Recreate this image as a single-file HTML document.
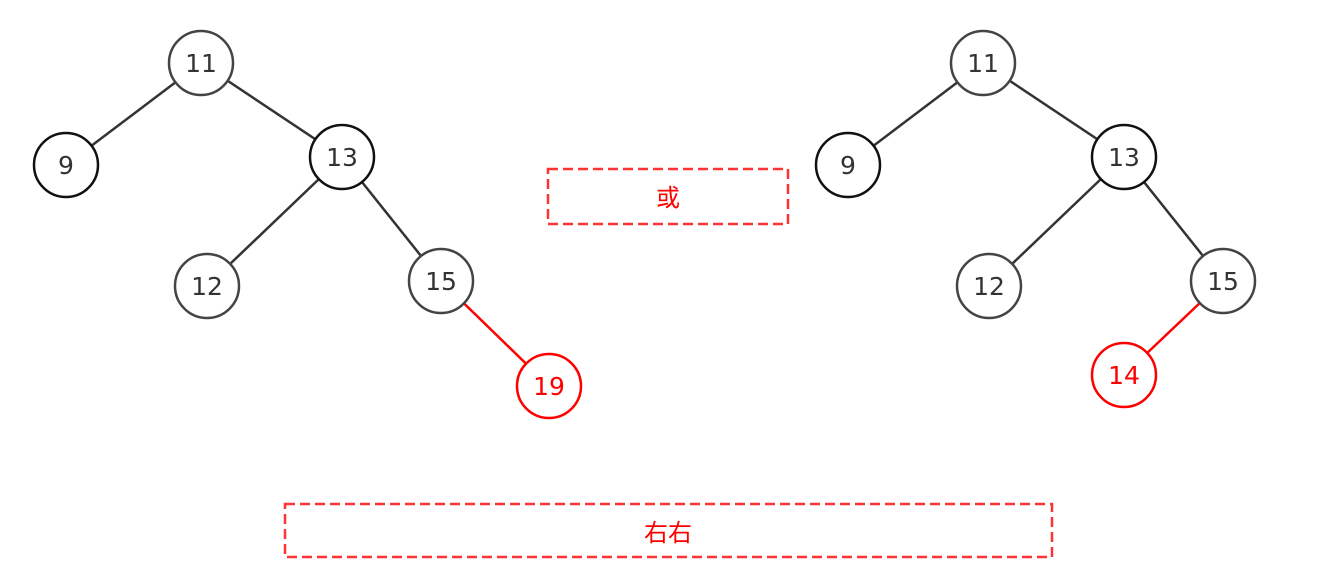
<!DOCTYPE html>
<html><head><meta charset="utf-8"><style>body{margin:0;background:#fff}svg{display:block}</style></head><body>
<svg width="1320" height="565" xmlns="http://www.w3.org/2000/svg" font-family="'DejaVu Sans','Noto Sans CJK SC',sans-serif" font-size="25" text-anchor="middle">
<g stroke="#333" stroke-width="2.5" fill="none">
<line x1="201" y1="63" x2="66" y2="165"/><line x1="201" y1="63" x2="342" y2="157"/>
<line x1="342" y1="157" x2="207" y2="286"/><line x1="342" y1="157" x2="441" y2="281"/>
<line x1="983" y1="63" x2="848" y2="165"/><line x1="983" y1="63" x2="1124" y2="157"/>
<line x1="1124" y1="157" x2="989" y2="286"/><line x1="1124" y1="157" x2="1223" y2="281"/>
</g>
<g stroke="#f00" stroke-width="2.5"><line x1="441" y1="281" x2="549" y2="386"/><line x1="1223" y1="281" x2="1124" y2="375"/></g>
<g fill="#fff" stroke-width="2.5">
<circle cx="201" cy="63" r="32" stroke="#444"/><circle cx="66" cy="165" r="32" stroke="#111"/><circle cx="342" cy="157" r="32" stroke="#111"/><circle cx="207" cy="286" r="32" stroke="#444"/><circle cx="441" cy="281" r="32" stroke="#444"/><circle cx="549" cy="386" r="32" stroke="#f00"/>
<circle cx="983" cy="63" r="32" stroke="#444"/><circle cx="848" cy="165" r="32" stroke="#111"/><circle cx="1124" cy="157" r="32" stroke="#111"/><circle cx="989" cy="286" r="32" stroke="#444"/><circle cx="1223" cy="281" r="32" stroke="#444"/><circle cx="1124" cy="375" r="32" stroke="#f00"/>
</g>
<g fill="#333">
<text x="201" y="72">11</text><text x="66" y="174">9</text><text x="342" y="166">13</text><text x="207" y="295">12</text><text x="441" y="290">15</text>
<text x="983" y="72">11</text><text x="848" y="174">9</text><text x="1124" y="166">13</text><text x="989" y="295">12</text><text x="1223" y="290">15</text>
</g>
<text x="549" y="395" fill="#f00">19</text><text x="1124" y="384" fill="#f00">14</text>
<g fill="none" stroke="#f33" stroke-width="2.5" stroke-dasharray="10,5">
<rect x="548" y="169" width="240" height="55"/><rect x="285" y="504" width="767" height="53"/>
</g>
<text x="668" y="206" fill="#f00" font-size="24">或</text>
<text x="668" y="541" fill="#f00" font-size="24">右右</text>
</svg>
</body></html>
